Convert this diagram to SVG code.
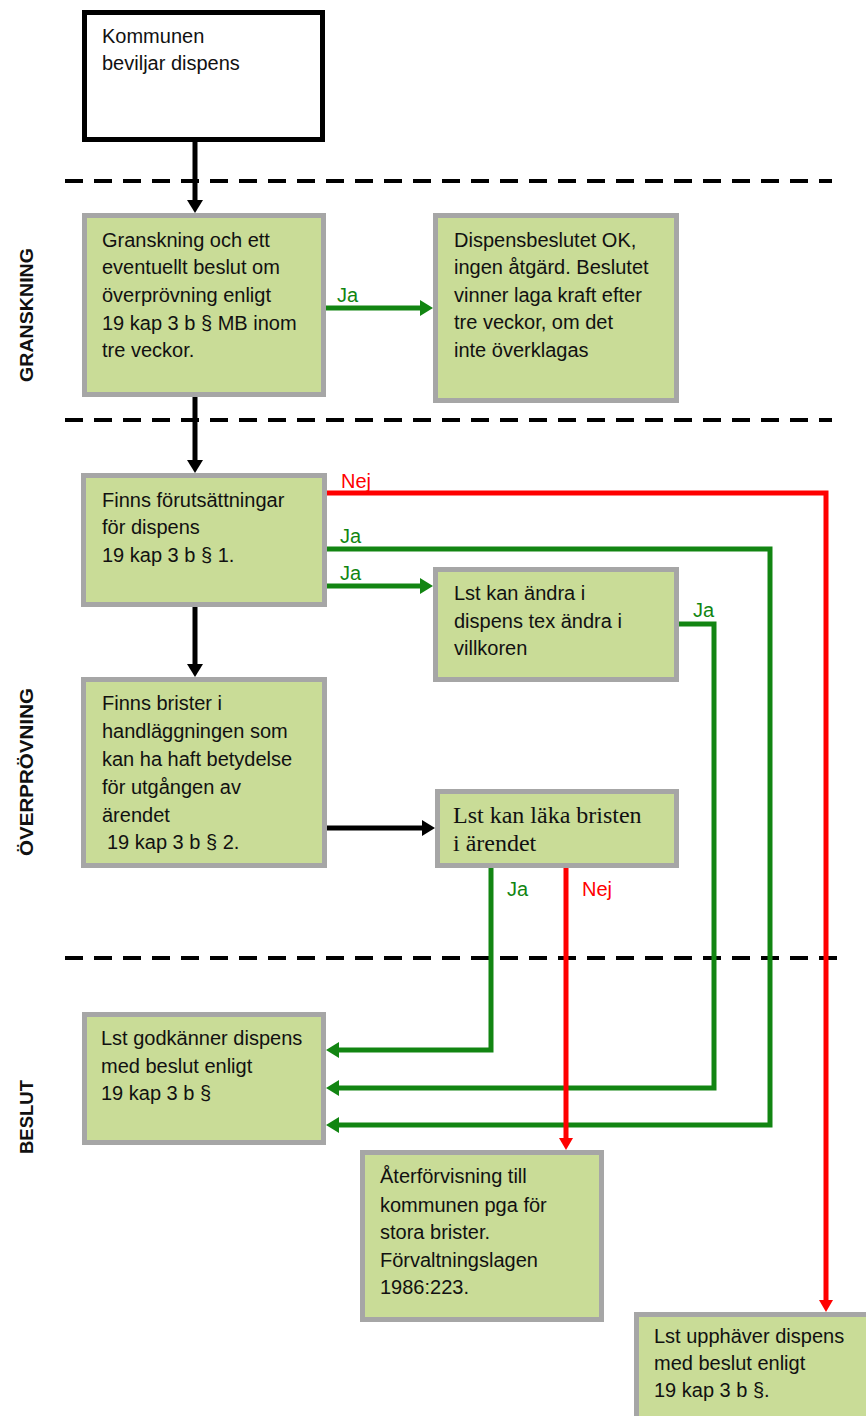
<svg xmlns="http://www.w3.org/2000/svg" width="866" height="1416" viewBox="0 0 866 1416">
<style>
.bx{fill:#C9DC97;stroke:#A6A6A6;stroke-width:5}
.wb{fill:#FFFFFF;stroke:#000000;stroke-width:5}
.t{font-family:"Liberation Sans",Arial,sans-serif;font-size:20px;fill:#111111}
.ts{font-family:"Liberation Serif","Times New Roman",serif;font-size:24px;fill:#111111}
.lane{font-family:"Liberation Sans",Arial,sans-serif;font-size:19px;font-weight:bold;fill:#111111;text-anchor:middle}
.dash{stroke:#000000;stroke-width:4;stroke-dasharray:18 11;fill:none}
.k{stroke:#000000;stroke-width:5;fill:none}
.g{stroke:#128512;stroke-width:5;fill:none}
.r{stroke:#FF0000;stroke-width:5;fill:none}
.lg{font-family:"Liberation Sans",Arial,sans-serif;font-size:20px;fill:#128512}
.lr{font-family:"Liberation Sans",Arial,sans-serif;font-size:20px;fill:#FF0000}
</style>
<defs>
<marker id="ak" markerUnits="userSpaceOnUse" markerWidth="14" markerHeight="16" refX="0" refY="8" orient="auto"><path d="M0,0 L13,8 L0,16 z" fill="#000000"/></marker>
<marker id="ag" markerUnits="userSpaceOnUse" markerWidth="14" markerHeight="16" refX="0" refY="8" orient="auto"><path d="M0,0 L13,8 L0,16 z" fill="#128512"/></marker>
<marker id="ar" markerUnits="userSpaceOnUse" markerWidth="14" markerHeight="14" refX="0" refY="7" orient="auto"><path d="M0,0 L12,7 L0,14 z" fill="#FF0000"/></marker>
</defs>

<g id="lanes">
<line class="dash" x1="65" y1="181" x2="832" y2="181"/>
<line class="dash" x1="65" y1="420" x2="832" y2="420"/>
<line class="dash" x1="65" y1="958" x2="845" y2="958"/>
<text class="lane" transform="translate(33,315) rotate(-90)" textLength="134" lengthAdjust="spacingAndGlyphs">GRANSKNING</text>
<text class="lane" transform="translate(33,772) rotate(-90)" textLength="168" lengthAdjust="spacingAndGlyphs">ÖVERPRÖVNING</text>
<text class="lane" transform="translate(33,1117) rotate(-90)" textLength="74" lengthAdjust="spacingAndGlyphs">BESLUT</text>
</g>

<g id="connectors">
<line class="k" x1="195" y1="142" x2="195" y2="200" marker-end="url(#ak)"/>
<line class="k" x1="195" y1="397" x2="195" y2="460" marker-end="url(#ak)"/>
<line class="k" x1="195" y1="607" x2="195" y2="664" marker-end="url(#ak)"/>
<line class="k" x1="327" y1="828" x2="422" y2="828" marker-end="url(#ak)"/>
<line class="g" x1="326" y1="308" x2="420" y2="308" marker-end="url(#ag)"/>
<text class="lg" x="337" y="302">Ja</text>
<polyline class="r" points="327,493 826,493 826,1300" marker-end="url(#ar)"/>
<text class="lr" x="341" y="488">Nej</text>
<polyline class="g" points="327,549 770,549 770,1125 339,1125" marker-end="url(#ag)"/>
<text class="lg" x="340" y="543">Ja</text>
<line class="g" x1="327" y1="586" x2="420" y2="586" marker-end="url(#ag)"/>
<text class="lg" x="340" y="580">Ja</text>
<polyline class="g" points="679,624 714,624 714,1088 339,1088" marker-end="url(#ag)"/>
<text class="lg" x="693" y="617">Ja</text>
<polyline class="g" points="491,868 491,1050 339,1050" marker-end="url(#ag)"/>
<text class="lg" x="507" y="896">Ja</text>
<line class="r" x1="566" y1="868" x2="566" y2="1138" marker-end="url(#ar)"/>
<text class="lr" x="582" y="896">Nej</text>
</g>

<g id="n1">
<rect class="wb" x="84.5" y="12.5" width="238" height="127"/>
<text class="t" x="102" y="43">Kommunen</text>
<text class="t" x="102" y="70">beviljar dispens</text>
</g>

<g id="n2">
<rect class="bx" x="84.5" y="215.5" width="239" height="179"/>
<text class="t" x="102" y="247">Granskning och ett</text>
<text class="t" x="102" y="274">eventuellt beslut om</text>
<text class="t" x="102" y="302">överprövning enligt</text>
<text class="t" x="102" y="330">19 kap 3 b § MB inom</text>
<text class="t" x="102" y="357">tre veckor.</text>
</g>

<g id="n3">
<rect class="bx" x="435.5" y="215.5" width="241" height="185"/>
<text class="t" x="454" y="247">Dispensbeslutet OK,</text>
<text class="t" x="454" y="274">ingen åtgärd. Beslutet</text>
<text class="t" x="454" y="302">vinner laga kraft efter</text>
<text class="t" x="454" y="329">tre veckor, om det</text>
<text class="t" x="454" y="357">inte överklagas</text>
</g>

<g id="n4">
<rect class="bx" x="83.5" y="475.5" width="241" height="129"/>
<text class="t" x="102" y="507">Finns förutsättningar</text>
<text class="t" x="102" y="534">för dispens</text>
<text class="t" x="102" y="562">19 kap 3 b § 1.</text>
</g>

<g id="n5">
<rect class="bx" x="435.5" y="569.5" width="241" height="110"/>
<text class="t" x="454" y="600">Lst kan ändra i</text>
<text class="t" x="454" y="628">dispens tex ändra i</text>
<text class="t" x="454" y="655">villkoren</text>
</g>

<g id="n6">
<rect class="bx" x="83.5" y="679.5" width="241" height="186"/>
<text class="t" x="102" y="710">Finns brister i</text>
<text class="t" x="102" y="738">handläggningen som</text>
<text class="t" x="102" y="766">kan ha haft betydelse</text>
<text class="t" x="102" y="794">för utgången av</text>
<text class="t" x="102" y="822">ärendet</text>
<text class="t" x="107" y="849">19 kap 3 b § 2.</text>
</g>

<g id="n7">
<rect class="bx" x="437.5" y="791.5" width="239" height="74"/>
<text class="ts" x="453" y="823">Lst kan läka bristen</text>
<text class="ts" x="453" y="851">i ärendet</text>
</g>

<g id="n8">
<rect class="bx" x="84.5" y="1014.5" width="239" height="128"/>
<text class="t" x="101" y="1045">Lst godkänner dispens</text>
<text class="t" x="101" y="1073">med beslut enligt</text>
<text class="t" x="101" y="1100">19 kap 3 b §</text>
</g>

<g id="n9">
<rect class="bx" x="362.5" y="1152.5" width="239" height="167"/>
<text class="t" x="380" y="1183">Återförvisning till</text>
<text class="t" x="380" y="1212">kommunen pga för</text>
<text class="t" x="380" y="1239">stora brister.</text>
<text class="t" x="380" y="1267">Förvaltningslagen</text>
<text class="t" x="380" y="1294">1986:223.</text>
</g>

<g id="n10">
<rect class="bx" x="636.5" y="1314.5" width="240" height="130"/>
<text class="t" x="654" y="1343">Lst upphäver dispens</text>
<text class="t" x="654" y="1370">med beslut enligt</text>
<text class="t" x="654" y="1397">19 kap 3 b §.</text>
</g>
</svg>
